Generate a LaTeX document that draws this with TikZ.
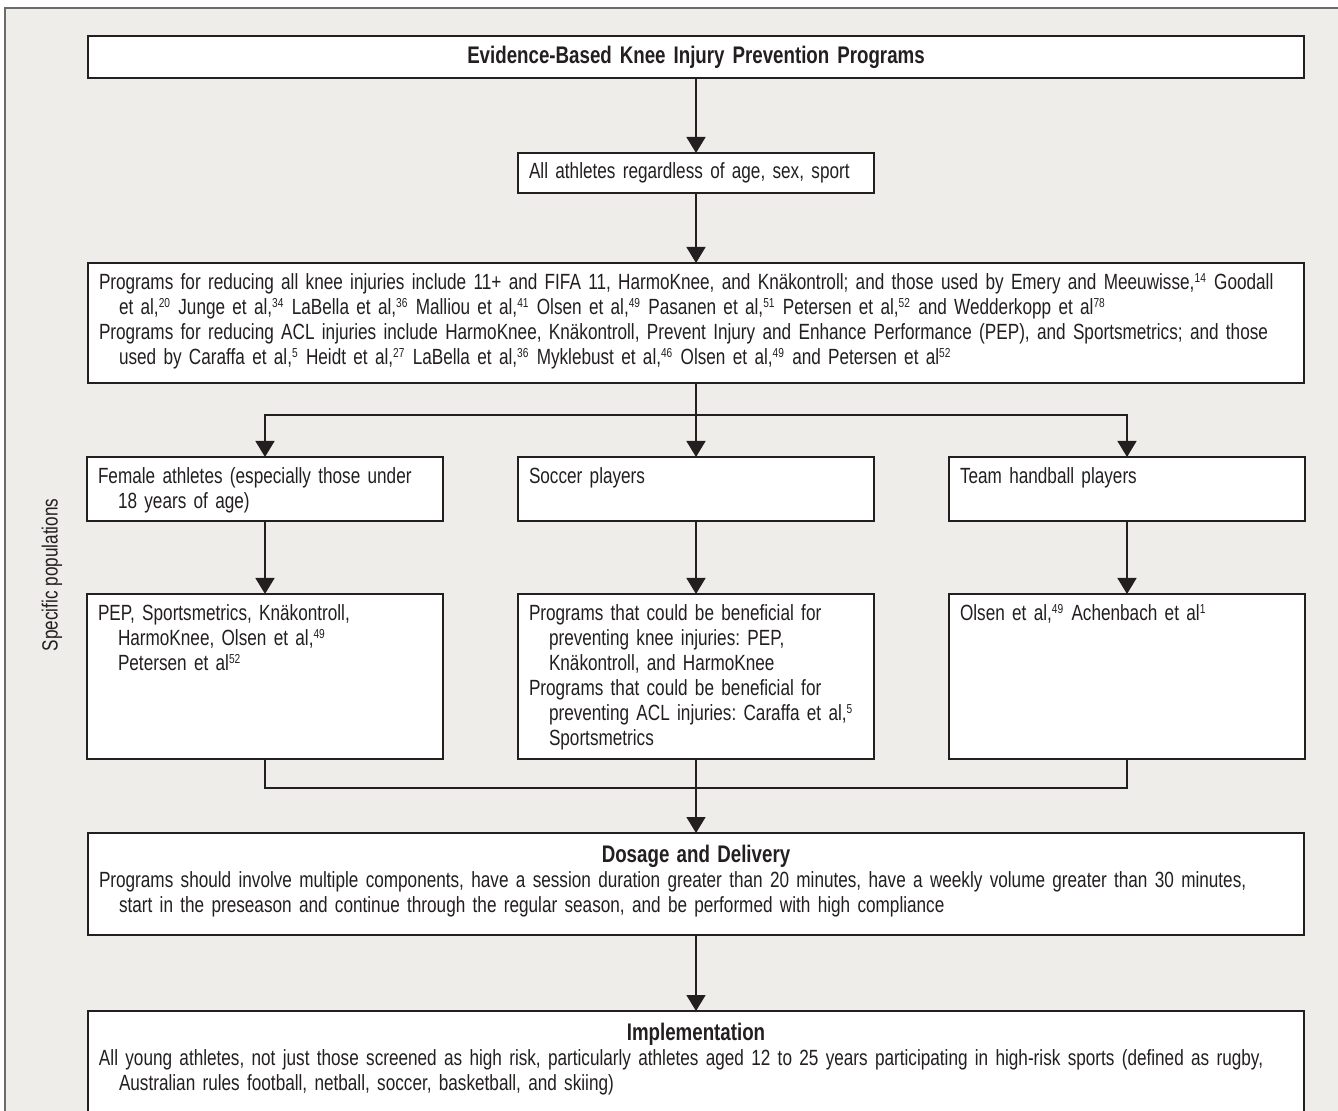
\documentclass[tikz,border=0pt]{standalone}
\usepackage{fontspec}
\setmainfont{Liberation Sans}[FakeStretch=0.78]
\usetikzlibrary{arrows.meta, positioning}
\definecolor{panelgrey}{HTML}{EEEDE9}
\definecolor{framegrey}{HTML}{6B6B6B}
\definecolor{inkdark}{HTML}{231F20}
\newcommand{\indline}{\hspace*{10pt}}
\newcommand{\headfont}{\fontsize{12pt}{12.5pt}\selectfont\bfseries}
\newcommand{\refnum}[1]{\textsuperscript{\fontsize{6.5pt}{6.5pt}\selectfont #1}}

\begin{document}
\begin{tikzpicture}[
            font=\fontsize{11pt}{12.5pt}\selectfont\frenchspacing,
            >={Triangle[width=9.5pt,length=8pt]},
            basebox/.style={rectangle, draw=inkdark, line width=0.9pt, fill=white, text=inkdark, inner xsep=5.5pt, inner ysep=4pt, outer sep=0pt, align=left},
            widebox/.style={basebox, text width=597pt},
            colbox/.style={basebox, text width=167pt},
            topline/.style={text height=9.5pt, text depth=#1},
            link/.style={->, draw=inkdark, line width=0.75pt}
        ]
            \useasboundingbox (0,0) rectangle (669pt,-555.5pt);
            \fill[white] (0,0) rectangle (669pt,-555.5pt);
            \fill[panelgrey] (2.5pt,-4pt) rectangle (690pt,-580pt);
            \draw[framegrey, line width=1pt] (2.5pt,-580pt) -- (2.5pt,-4pt) -- (690pt,-4pt);

            \node (title) [widebox, align=center, minimum height=21pt, font=\headfont, anchor=north west] at (44pt,-18pt) {Evidence-Based Knee Injury Prevention Programs};
            \node (all) [colbox, minimum height=20pt, below=37.5pt of title] {All athletes regardless of age, sex, sport};
            \node (big) [widebox, topline=42.5pt, below=35pt of all] {Programs for reducing all knee injuries include 11+ and FIFA 11, HarmoKnee, and Knäkontroll; and those used by Emery and Meeuwisse,\refnum{14} Goodall\\
                \indline et al,\refnum{20} Junge et al,\refnum{34} LaBella et al,\refnum{36} Malliou et al,\refnum{41} Olsen et al,\refnum{49} Pasanen et al,\refnum{51} Petersen et al,\refnum{52} and Wedderkopp et al\refnum{78}\\
                Programs for reducing ACL injuries include HarmoKnee, Knäkontroll, Prevent Injury and Enhance Performance (PEP), and Sportsmetrics; and those\\
                \indline used by Caraffa et al,\refnum{5} Heidt et al,\refnum{27} LaBella et al,\refnum{36} Myklebust et al,\refnum{46} Olsen et al,\refnum{49} and Petersen et al\refnum{52}};

            \node (soccer) [colbox, topline=14.5pt, below=37pt of big] {Soccer players};
            \node (female) [colbox, topline=14.5pt, left=37.5pt of soccer] {Female athletes (especially those under\\\indline 18 years of age)};
            \node (handball) [colbox, topline=14.5pt, right=37.5pt of soccer] {Team handball players};

            \node (soccerprog) [colbox, topline=65pt, below=36.5pt of soccer] {Programs that could be beneficial for\\\indline preventing knee injuries: PEP,\\\indline Knäkontroll, and HarmoKnee\\Programs that could be beneficial for\\\indline preventing ACL injuries: Caraffa et al,\refnum{5}\\\indline Sportsmetrics};
            \node (femaleprog) [colbox, topline=65pt, below=36.5pt of female] {PEP, Sportsmetrics, Knäkontroll,\\\indline HarmoKnee, Olsen et al,\refnum{49}\\\indline Petersen et al\refnum{52}};
            \node (handballprog) [colbox, topline=65pt, below=36.5pt of handball] {Olsen et al,\refnum{49} Achenbach et al\refnum{1}};

            \node (dosage) [widebox, text height=10.5pt, text depth=32.5pt, below=37pt of soccerprog] {\makebox[\linewidth]{\headfont Dosage and Delivery}\\
                Programs should involve multiple components, have a session duration greater than 20 minutes, have a weekly volume greater than 30 minutes,\\
                \indline start in the preseason and continue through the regular season, and be performed with high compliance};
            \node (impl) [widebox, text height=10.5pt, text depth=38.5pt, below=38pt of dosage] {\makebox[\linewidth]{\headfont Implementation}\\
                All young athletes, not just those screened as high risk, particularly athletes aged 12 to 25 years participating in high-risk sports (defined as rugby,\\
                \indline Australian rules football, netball, soccer, basketball, and skiing)};

            \node (spec) [rotate=90, text=inkdark] at (26pt,-287.5pt) {Specific populations};

            \coordinate (split) at ([yshift=-16pt]big.south);
            \coordinate (merge) at ([yshift=-14.5pt]soccerprog.south);

            \draw[link] (title.south) -- (all.north);
            \draw[link] (all.south) -- (big.north);
            \draw[link] (big.south) -- (soccer.north);
            \draw[link] (split) -| (female.north);
            \draw[link] (split) -| (handball.north);
            \draw[link] (female.south) -- (femaleprog.north);
            \draw[link] (soccer.south) -- (soccerprog.north);
            \draw[link] (handball.south) -- (handballprog.north);
            \draw[draw=inkdark, line width=0.75pt] (femaleprog.south) |- (merge) -| (handballprog.south);
            \draw[link] (soccerprog.south) -- (dosage.north);
            \draw[link] (dosage.south) -- (impl.north);
        \end{tikzpicture}
\end{document}
